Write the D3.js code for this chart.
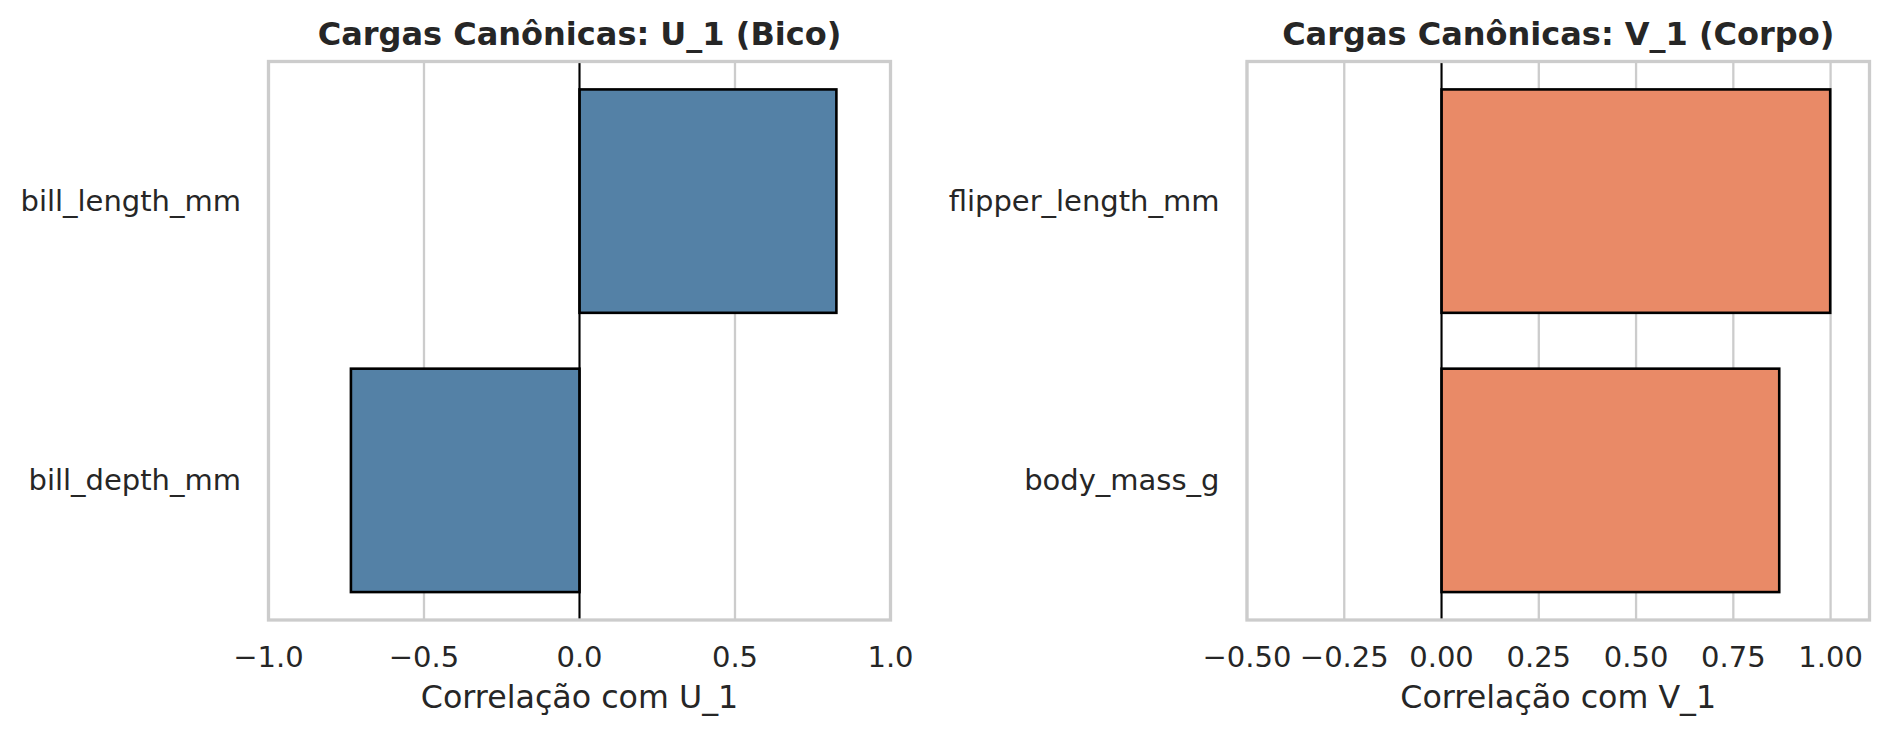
<!DOCTYPE html>
<html>
<head>
<meta charset="utf-8">
<script src="https://cdn.jsdelivr.net/npm/d3@7"></script>
<style>
  html, body { margin: 0; padding: 0; background: #fff; }
  svg text { font-family: "DejaVu Sans", sans-serif; fill: #262626; }
</style>
</head>
<body>
<svg id="chart" width="1888" height="736"></svg>
<script>
// ---- Data ----
const categoriesU = ["bill_length_mm", "bill_depth_mm"];
const valuesU = [0.826, -0.735];
const ticksU = [-1.0, -0.5, 0.0, 0.5, 1.0];
const domainU = [-1.0, 1.0];

const categoriesV = ["flipper_length_mm", "body_mass_g"];
const valuesV = [0.999, 0.868];
const ticksV = [-0.5, -0.25, 0.0, 0.25, 0.5, 0.75, 1.0];
const domainV = [-0.5, 1.1];

const titles = ["Cargas Canônicas: U_1 (Bico)", "Cargas Canônicas: V_1 (Corpo)"];
const xLabels = ["Correlação com U_1", "Correlação com V_1"];

const svg = d3.select("#chart");
const plotTop = 61.5, plotBottom = 620;

function panel(cfg) {
  const { left, right, cats, vals, ticks, domain, fmt, color, title, xlabel } = cfg;
  const g = svg.append("g");
  const x = d3.scaleLinear().domain(domain).range([left, right]);
  const y = d3.scaleBand().domain(cats).range([plotTop, plotBottom]).paddingInner(0.2).paddingOuter(0.1);

  // grid
  g.selectAll("line.grid").data(ticks).enter().append("line")
    .attr("x1", d => x(d)).attr("x2", d => x(d))
    .attr("y1", plotTop).attr("y2", plotBottom)
    .attr("stroke", "#cccccc").attr("stroke-width", 2.3);

  // bars
  g.selectAll("rect.bar").data(cats).enter().append("rect")
    .attr("x", (d, i) => x(Math.min(0, vals[i])))
    .attr("width", (d, i) => Math.abs(x(vals[i]) - x(0)))
    .attr("y", d => y(d))
    .attr("height", y.bandwidth())
    .attr("fill", color)
    .attr("stroke", "#000").attr("stroke-width", 2.6);

  // zero line
  g.append("line")
    .attr("x1", x(0)).attr("x2", x(0)).attr("y1", plotTop).attr("y2", plotBottom)
    .attr("stroke", "#000").attr("stroke-width", 2);

  // spines
  g.append("rect")
    .attr("x", left).attr("y", plotTop).attr("width", right - left).attr("height", plotBottom - plotTop)
    .attr("fill", "none").attr("stroke", "#cccccc").attr("stroke-width", 3.3);

  // x tick labels
  g.selectAll("text.xt").data(ticks).enter().append("text")
    .attr("x", d => x(d)).attr("y", 667)
    .attr("text-anchor", "middle").attr("font-size", 29)
    .text(d => d3.format(fmt)(d).replace("-", "\u2212"));

  // y tick labels
  g.selectAll("text.yt").data(cats).enter().append("text")
    .attr("x", left - 27.5).attr("y", d => y(d) + y.bandwidth() / 2)
    .attr("text-anchor", "end").attr("dominant-baseline", "central")
    .attr("font-size", 29)
    .text(d => d);

  // x axis label
  g.append("text")
    .attr("x", (left + right) / 2).attr("y", 708)
    .attr("text-anchor", "middle").attr("font-size", 31.7)
    .text(xlabel);

  // title
  g.append("text")
    .attr("x", (left + right) / 2).attr("y", 45)
    .attr("text-anchor", "middle").attr("font-size", 32).attr("font-weight", "bold")
    .text(title);
}

panel({ left: 268.5, right: 890.5, cats: categoriesU, vals: valuesU, ticks: ticksU,
        domain: domainU, fmt: ".1f", color: "#5481a6", title: titles[0], xlabel: xLabels[0] });
panel({ left: 1247, right: 1869.5, cats: categoriesV, vals: valuesV, ticks: ticksV,
        domain: domainV, fmt: ".2f", color: "#e98a67", title: titles[1], xlabel: xLabels[1] });
</script>
</body>
</html>
